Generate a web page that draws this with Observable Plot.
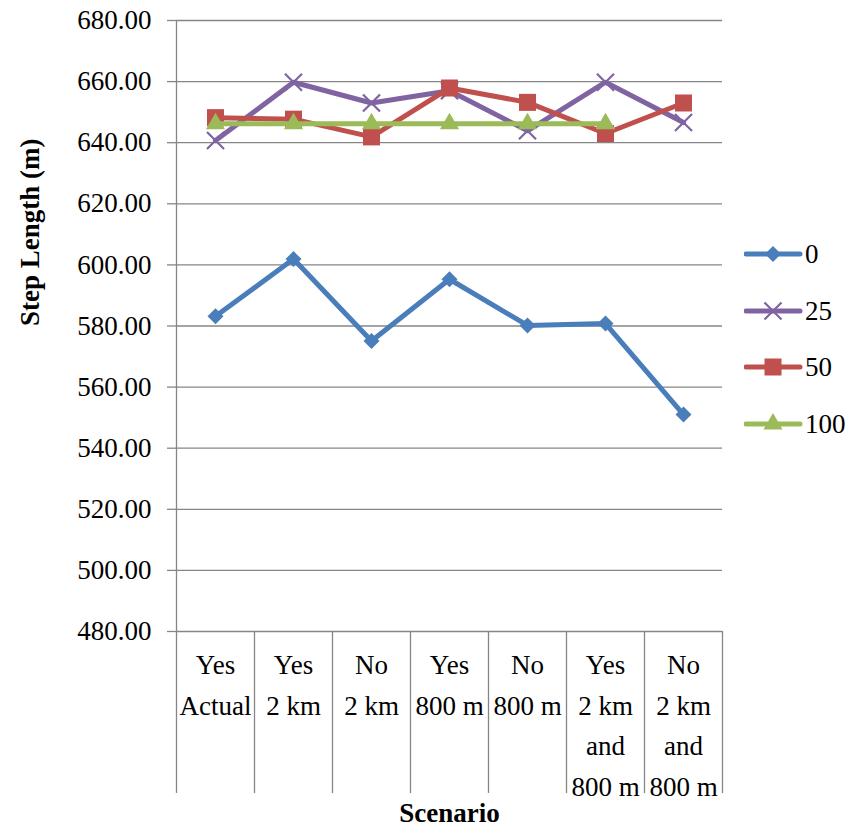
<!DOCTYPE html>
<html>
<head>
<meta charset="utf-8">
<script src="https://cdn.jsdelivr.net/npm/d3@7"></script>
<script src="https://cdn.jsdelivr.net/npm/@observablehq/plot@0.6"></script>
<style>
  html, body { margin: 0; padding: 0; background: #fff; }
  #wrap { position: relative; width: 866px; height: 830px; font-family: "Liberation Serif", serif; }
  .lg { position: absolute; display: flex; align-items: center; font-size: 27px; color: #000; }
</style>
</head>
<body>
<div id="wrap"></div>
<script>
// ---- data ----
const groups = ["Yes", "Yes", "No", "Yes", "No", "Yes", "No"];
const scenarios = ["Actual", "2 km", "2 km", "800 m", "800 m", "2 km\nand\n800 m", "2 km\nand\n800 m"];
const seriesNames = ["0", "25", "50", "100"];
const s0   = [583.2, 601.9, 575.1, 595.3, 580.2, 580.8, 551.0];
const s25  = [640.7, 659.8, 653.0, 657.0, 643.9, 659.8, 646.6];
const s50  = [648.2, 647.7, 641.9, 657.9, 653.2, 643.0, 653.0];
const s100 = [646.2, 646.2, 646.2, 646.2, 646.2, 646.2, null];
const yTicks = [480, 500, 520, 540, 560, 580, 600, 620, 640, 660, 680];

// ---- styles ----
const colors = {"0": "#4A7EBB", "25": "#8064A2", "50": "#C0504D", "100": "#9BBB59"};
const symbols = {"0": "diamond2", "25": "times", "50": "square", "100": "triangle"};
const radii = {"0": 7.2, "25": 7.8, "50": 9.6, "100": 7.1};
const grid = "#868686";

const allValues = [s0, s25, s50, s100];
const rows = [];
seriesNames.forEach((name, k) => {
  allValues[k].forEach((v, i) => {
    if (v != null) rows.push({series: name, i, x: i + 0.5, value: v});
  });
});
const cats = groups.map((g, i) => ({x: i + 0.5, text: g + "\n" + scenarios[i]}));

const width = 866, height = 830;
const mTop = 20, mBottom = 199, mLeft = 176, mRight = 144;
const yMin = 480, yMax = 680;
const pxPerUnit = (height - mTop - mBottom) / (yMax - yMin);
const dividerDepth = 162 / pxPerUnit; // category divider length below the axis

const marks = [
  Plot.ruleY(yTicks, {stroke: grid, strokeWidth: 1.3}),
  Plot.ruleX([0], {y1: yMin, y2: yMax, stroke: grid, strokeWidth: 1.3}),
  Plot.ruleX(d3.range(groups.length + 1), {y1: yMin, y2: yMin - dividerDepth, stroke: grid, strokeWidth: 1.3}),
  Plot.axisY({ticks: yTicks, tickFormat: d => d.toFixed(2), tickSize: 9, tickPadding: 16,
              fontSize: 27, fill: "#000", stroke: grid, strokeWidth: 1.3, label: null}),
  Plot.text(cats, {x: "x", text: "text", frameAnchor: "bottom", lineAnchor: "top", dy: 14,
                   lineHeight: 1.5, fontSize: 27, fill: "#000"}),
  Plot.text(["Scenario"], {x: groups.length / 2, frameAnchor: "bottom", dy: 190, fontSize: 27,
                   fontWeight: "bold", fill: "#000"}),
  Plot.text(["Step Length (m)"], {y: (yMin + yMax) / 2, frameAnchor: "left", dx: -146, rotate: -90,
                   fontSize: 27, fontWeight: "bold", fill: "#000"})
];
seriesNames.forEach(name => {
  const d = rows.filter(r => r.series === name);
  marks.push(Plot.line(d, {x: "x", y: "value", stroke: colors[name], strokeWidth: 5}));
  if (name === "25") {
    marks.push(Plot.dot(d, {x: "x", y: "value", symbol: symbols[name], r: radii[name], stroke: colors[name], strokeWidth: 2.2}));
  } else {
    marks.push(Plot.dot(d, {x: "x", y: "value", symbol: symbols[name], r: radii[name], fill: colors[name], stroke: "none"}));
  }
});

const chart = Plot.plot({
  width, height,
  marginTop: mTop, marginBottom: mBottom, marginLeft: mLeft, marginRight: mRight,
  style: {fontFamily: "'Liberation Serif', serif", background: "#fff", overflow: "visible"},
  x: {type: "linear", domain: [0, groups.length], axis: null},
  y: {domain: [yMin, yMax], axis: null},
  marks
});
const wrap = document.getElementById("wrap");
wrap.appendChild(chart);

// ---- legend ----
const legendTop = 254, legendStep = 56.7;
seriesNames.forEach((name, k) => {
  const row = document.createElement("div");
  row.className = "lg";
  row.style.left = "744px";
  row.style.top = (legendTop + k * legendStep - 15) + "px";
  row.style.height = "30px";
  const svg = d3.create("svg").attr("width", 60).attr("height", 30);
  svg.append("line").attr("x1", 2).attr("x2", 56).attr("y1", 15).attr("y2", 15)
    .attr("stroke", colors[name]).attr("stroke-width", 5).attr("stroke-linecap", "round");
  const symMap = {diamond2: d3.symbolDiamond2, times: d3.symbolTimes, square: d3.symbolSquare, triangle: d3.symbolTriangle};
  const size = Math.PI * radii[name] * radii[name];
  const p = svg.append("path").attr("d", d3.symbol(symMap[symbols[name]], size)()).attr("transform", "translate(29,15)");
  if (name === "25") p.attr("fill", "none").attr("stroke", colors[name]).attr("stroke-width", 2.2);
  else p.attr("fill", colors[name]);
  row.appendChild(svg.node());
  const t = document.createElement("span");
  t.textContent = name;
  t.style.marginLeft = "1px";
  t.style.lineHeight = "30px";
  row.appendChild(t);
  wrap.appendChild(row);
});
</script>
</body>
</html>
